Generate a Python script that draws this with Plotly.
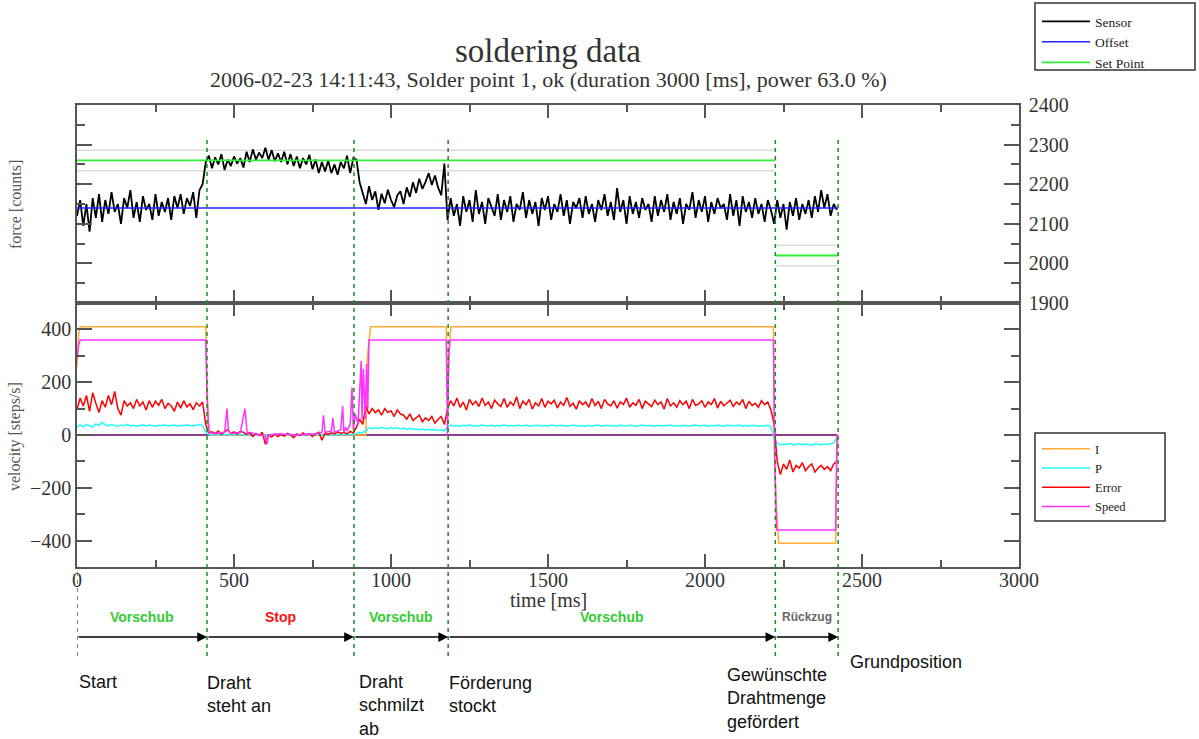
import plotly.graph_objects as go

# ---------------- data ----------------
time_ms = list(range(0, 2430, 10))  # sampling grid, 10 ms

sensor_counts = [
    # Vorschub 0-400
    2120, 2160, 2095, 2150, 2080, 2165, 2115, 2175, 2105, 2160,
    2125, 2180, 2130, 2150, 2100, 2165, 2140, 2185, 2115, 2155,
    2105, 2170, 2135, 2150, 2110, 2175, 2120, 2155, 2130, 2165,
    2110, 2170, 2140, 2175, 2125, 2165, 2145, 2180, 2115, 2185,
    2200,
    # Stop 410-880
    2255, 2272, 2240, 2268, 2250, 2276, 2236, 2262, 2246, 2270,
    2252, 2266, 2242, 2282, 2256, 2288, 2262, 2280, 2266, 2292,
    2262, 2286, 2258, 2278, 2256, 2282, 2250, 2276, 2246, 2270,
    2240, 2266, 2250, 2274, 2238, 2262, 2228, 2256, 2232, 2260,
    2228, 2250, 2224, 2256, 2240, 2272, 2228, 2266,
    # Vorschub 890-1170
    2262, 2205, 2180, 2150, 2195, 2160, 2182, 2135, 2176, 2152,
    2186, 2160, 2142, 2172, 2182, 2150, 2192, 2168, 2205, 2178,
    2214, 2188, 2206, 2228, 2198, 2222, 2192, 2172, 2252,
    # Vorschub 1180-2210
    2110, 2165, 2120, 2150, 2095, 2170, 2130, 2160, 2105, 2185,
    2125, 2155, 2100, 2165, 2140, 2120, 2175, 2110, 2160, 2130,
    2170, 2105, 2150, 2135, 2180, 2115, 2160, 2125, 2155, 2095,
    2165, 2135, 2170, 2110, 2150, 2130, 2175, 2120, 2160, 2100,
    2155, 2140, 2165, 2115, 2170, 2125, 2150, 2105, 2160, 2135,
    2175, 2120, 2155, 2110, 2190, 2130, 2160, 2100, 2170, 2125,
    2155, 2115, 2165, 2135, 2150, 2105, 2170, 2120, 2160, 2130,
    2175, 2110, 2155, 2125, 2165, 2100, 2150, 2135, 2180, 2115,
    2160, 2130, 2170, 2105, 2155, 2125, 2165, 2140, 2150, 2110,
    2175, 2120, 2160, 2095, 2170, 2130, 2155, 2115, 2165, 2125,
    2150, 2105, 2160, 2135,
    # Rueckzug 2220-2420
    2100, 2160, 2115, 2150, 2085, 2155, 2120, 2165, 2110, 2150,
    2125, 2160, 2115, 2170, 2130, 2185, 2140, 2175, 2120, 2150, 2135,
]

error_vel = [
    95, 140, 110, 150, 90, 160, 120, 85, 130, 105,
    150, 115, 165, 100, 75, 130, 110, 122, 100, 135,
    110, 125, 95, 130, 105, 128, 112, 135, 100, 120,
    110, 90, 125, 102, 130, 106, 118, 96, 122, 110, 125,
    40, 8, 12, 5, 15, 3, 10, 20, 6, 12,
    4, 14, 10, 2, 8, -5, 6, -2, 10, -35,
    0, -8, 4, -6, 2, -4, 6, 0, -10, 4,
    -2, 8, 0, 5, -6, 4, 10, -20, 6, 2,
    8, 4, 12, 6, 10, 4, 14, 8,
    30, 60, 40, 110, 80, 100, 85, 95, 75, 100,
    85, 92, 70, 95, 80, 75, 60, 80, 55, 65,
    75, 50, 65, 55, 70, 45, 60, 70, 40,
    100, 130, 110, 140, 105, 125, 95, 135, 115, 128,
    108, 140, 112, 125, 100, 132, 118, 108, 138, 105,
    125, 112, 145, 100, 128, 115, 135, 98, 122, 110,
    138, 105, 128, 118, 132, 102, 125, 112, 142, 108,
    120, 98, 130, 115, 125, 105, 138, 112, 128, 100,
    135, 118, 110, 130, 102, 125, 115, 140, 105, 122,
    112, 135, 100, 128, 118, 108, 132, 115, 125, 98,
    138, 110, 122, 105, 130, 115, 128, 100, 135, 112,
    118, 130, 105, 125, 115, 138, 102, 128, 110, 122,
    132, 108, 125, 115, 135, 100, 128, 112, 120, 105,
    130, 115, 125, 95,
    40, -100, -150, -110, -130, -95, -140, -115, -125, -105,
    -135, -120, -110, -140, -125, -115, -130, -120, -135, -110, -100,
]

p_vel = [
    30, 38, 32, 40, 35, 30, 42, 36, 48, 38,
    34, 40, 36, 32, 38, 35, 40, 34, 37, 33,
    36, 39, 34, 38, 35, 33, 37, 35, 39, 34,
    36, 38, 33, 37, 35, 39, 36, 34, 38, 40, 36,
    10, 2, 1, 3, 0, 2, 1, 4, 0, 2,
    1, 3, 1, 0, 2, 0, 1, 0, 2, -3,
    0, -1, 1, -1, 0, -1, 1, 0, -2, 1,
    0, 2, 0, 1, -1, 1, 2, -2, 1, 0,
    2, 1, 3, 1, 2, 1, 3, 2,
    5, 10, 8, 20, 28, 24, 27, 25, 29, 26,
    24, 28, 25, 27, 23, 26, 22, 25, 21, 24,
    20, 23, 19, 22, 18, 21, 17, 20, 15,
    32, 38, 34, 36, 33, 37, 35, 39, 34, 36,
    33, 38, 35, 34, 37, 33, 36, 35, 38, 34,
    36, 33, 37, 35, 34, 38, 33, 36, 35, 37,
    34, 36, 33, 38, 35, 34, 37, 36, 33, 35,
    38, 34, 36, 35, 33, 37, 34, 36, 38, 33,
    35, 37, 34, 36, 33, 38, 35, 34, 37, 36,
    33, 35, 38, 34, 36, 35, 33, 37, 34, 36,
    35, 38, 33, 36, 34, 37, 35, 33, 36, 38,
    34, 35, 37, 33, 36, 34, 38, 35, 33, 37,
    36, 34, 35, 38, 33, 36, 34, 37, 35, 33,
    36, 34, 37, 30,
    -10, -30, -38, -34, -36, -32, -38, -35, -33, -37,
    -34, -36, -38, -33, -35, -37, -34, -36, -33, -30, -10,
]

i_t = [0, 5, 10, 410, 414, 418, 425, 920, 925, 935, 1176, 1180, 1185, 1190,
       2218, 2222, 2226, 2235, 2416, 2420, 2424]
i_vel = [260, 380, 410, 410, 200, 50, 0, 0, 300, 410, 410, 150, 300, 410,
         410, -100, -250, -410, -410, -100, 0]

speed_t = [0, 5, 10, 410, 414, 420, 440, 470, 478, 482, 490, 520, 535, 538, 542,
           550, 580, 600, 605, 610, 640, 700, 760, 780, 785, 790, 810, 815, 820,
           840, 846, 850, 856, 860, 870, 876, 880, 886, 895, 905, 908, 912, 918,
           922, 926, 930, 1176, 1180, 1184, 1188, 2218, 2222, 2228, 2416, 2420, 2424]
speed_vel = [290, 340, 360, 360, 150, 10, 5, 10, 100, 15, 5, 10, 100, 60, 5,
             10, 0, -5, -35, 0, 5, 0, 5, 10, 75, 10, 15, 65, 10,
             20, 110, 10, 30, 15, 40, 180, 20, 80, 40, 280, 60, 250, 60,
             270, 100, 360, 360, 0, 300, 360, 360, -100, -360, -360, 0, 0]

offset_counts = 2140
setpoint_t = [0, 2224, None, 2224, 2424]
setpoint_counts = [2260, 2260, None, 2020, 2020]
setpoint_tolerance = 26

phase_bounds = [0, 414, 882, 1182, 2224, 2424]
phase_names = ["Vorschub", "Stop", "Vorschub", "Vorschub", "Rückzug"]
phase_colors = ["#33cc33", "#ff1111", "#33cc33", "#33cc33", "#666666"]
event_texts = ["Start", "Draht<br>steht an", "Draht<br>schmilzt<br>ab",
               "Förderung<br>stockt", "Gewünschte<br>Drahtmenge<br>gefördert",
               "Grundposition"]

# ---------------- figure ----------------
SERIF = "Liberation Serif"
SANS = "Liberation Sans"
fig = go.Figure()

# top panel (force)
tol_hi = [None if v is None else v + setpoint_tolerance for v in setpoint_counts]
tol_lo = [None if v is None else v - setpoint_tolerance for v in setpoint_counts]
for tol in (tol_hi, tol_lo):
    fig.add_trace(go.Scatter(x=setpoint_t, y=tol, mode="lines", xaxis="x2", yaxis="y2",
                             line=dict(color="#dcdcdc", width=1.5), showlegend=False,
                             hoverinfo="skip"))
fig.add_trace(go.Scatter(x=time_ms, y=sensor_counts, mode="lines", name="Sensor",
                         xaxis="x2", yaxis="y2", line=dict(color="black", width=1.8),
                         legend="legend"))
fig.add_trace(go.Scatter(x=[phase_bounds[0], phase_bounds[-1]], y=[offset_counts] * 2,
                         mode="lines", name="Offset", xaxis="x2", yaxis="y2",
                         line=dict(color="#2222ff", width=1.5), legend="legend"))
fig.add_trace(go.Scatter(x=setpoint_t, y=setpoint_counts, mode="lines", name="Set Point",
                         xaxis="x2", yaxis="y2", line=dict(color="#33ee33", width=1.8),
                         legend="legend"))

# bottom panel (velocity)
fig.add_trace(go.Scatter(x=[time_ms[0], time_ms[-1]], y=[0, 0], mode="lines",
                         line=dict(color="#660066", width=1.5), showlegend=False,
                         hoverinfo="skip"))
fig.add_trace(go.Scatter(x=i_t, y=i_vel, mode="lines", name="I",
                         line=dict(color="#ffaa33", width=1.5), legend="legend2"))
fig.add_trace(go.Scatter(x=time_ms, y=p_vel, mode="lines", name="P",
                         line=dict(color="#22ffff", width=1.5), legend="legend2"))
fig.add_trace(go.Scatter(x=time_ms, y=error_vel, mode="lines", name="Error",
                         line=dict(color="#ff0000", width=1.5), legend="legend2"))
fig.add_trace(go.Scatter(x=speed_t, y=speed_vel, mode="lines", name="Speed",
                         line=dict(color="#ff33ff", width=1.5), legend="legend2"))

AX_COL = "#555555"
tickfont = dict(family=SERIF, size=20, color="#333333")
xcommon = dict(range=[0, 3000], tickvals=[0, 500, 1000, 1500, 2000, 2500, 3000],
               ticks="inside", ticklen=13, tickwidth=1.5, tickcolor=AX_COL,
               minor=dict(dtick=250, ticks="inside", ticklen=7, tickcolor=AX_COL, tickwidth=1.5),
               showline=True, linecolor=AX_COL, linewidth=1.5, mirror="ticks",
               showgrid=False, zeroline=False)

split = 0.5714
PX = lambda px: (px - 77) / 942          # pixel column -> paper x
PY = lambda py: (567 - py) / 462         # pixel row -> paper y
fig.update_layout(
    width=1199, height=739,
    margin=dict(l=77, r=180, t=105, b=172, autoexpand=False),
    paper_bgcolor="white", plot_bgcolor="white",
    showlegend=True,
    title=dict(text="soldering data", x=0.5, xref="paper", xanchor="center",
               y=1 - 50 / 739, yanchor="middle",
               font=dict(family=SERIF, size=33, color="#333333")),
    xaxis=dict(**xcommon, anchor="y", domain=[0, 1], tickfont=tickfont,
               ticklabelstandoff=-6),
    xaxis2=dict(**xcommon, anchor="y2", domain=[0, 1], matches="x", showticklabels=False),
    yaxis=dict(domain=[0, split], range=[-500, 500], tickvals=[-400, -200, 0, 200, 400],
               ticks="inside", ticklen=15, tickwidth=1.5, tickcolor=AX_COL,
               minor=dict(dtick=100, ticks="inside", ticklen=8, tickcolor=AX_COL, tickwidth=1.5),
               showline=True, linecolor=AX_COL, linewidth=1.5, mirror="ticks",
               showgrid=False, zeroline=False, tickfont=tickfont, anchor="x"),
    yaxis2=dict(domain=[split, 1], range=[1900, 2400], dtick=100, side="right",
                ticks="inside", ticklen=15, tickwidth=1.5, tickcolor=AX_COL,
                minor=dict(dtick=50, ticks="inside", ticklen=8, tickcolor=AX_COL, tickwidth=1.5),
                showline=True, linecolor=AX_COL, linewidth=1.5, mirror="ticks",
                showgrid=False, zeroline=False, tickfont=tickfont, anchor="x2",
                ticklabelstandoff=4),
    legend=dict(x=PX(1037), xanchor="left", y=PY(6), yanchor="top",
                borderwidth=0, bgcolor="rgba(0,0,0,0)", itemwidth=48,
                font=dict(family=SERIF, size=13.5, color="#222222"), tracegroupgap=0),
    legend2=dict(x=PX(1037), xanchor="left", y=PY(434), yanchor="top",
                 borderwidth=0, bgcolor="rgba(0,0,0,0)", itemwidth=48,
                 font=dict(family=SERIF, size=12.5, color="#222222"), tracegroupgap=0),
)

ann = []
ann.append(dict(text="2006-02-23 14:11:43, Solder point 1, ok (duration 3000 [ms], power 63.0 %)",
                xref="paper", yref="paper", x=0.5, y=PY(80), xanchor="center",
                yanchor="middle", showarrow=False,
                font=dict(family=SERIF, size=22, color="#333333")))
ann.append(dict(text="time [ms]", xref="paper", yref="paper", x=0.5, y=PY(600),
                xanchor="center", yanchor="middle", showarrow=False,
                font=dict(family=SERIF, size=20, color="#333333")))
ann.append(dict(text="force [counts]", xref="paper", yref="paper", x=PX(15),
                y=PY(205), textangle=-90, xanchor="center", yanchor="middle",
                showarrow=False, font=dict(family=SERIF, size=16, color="#555555")))
ann.append(dict(text="velocity [steps/s]", xref="paper", yref="paper", x=PX(15),
                y=PY(437), textangle=-90, xanchor="center", yanchor="middle",
                showarrow=False, font=dict(family=SERIF, size=16, color="#555555")))

# phase labels and arrows
for k, name in enumerate(phase_names):
    a, b = phase_bounds[k], phase_bounds[k + 1]
    ann.append(dict(text=f"<b>{name}</b>", xref="x", yref="paper", x=(a + b) / 2,
                    y=PY(617), xanchor="center", yanchor="middle", showarrow=False,
                    font=dict(family=SANS, size=14 if k < 4 else 12, color=phase_colors[k])))
    ann.append(dict(text="", xref="x", yref="paper", x=b, y=PY(637),
                    axref="x", ax=a, ayref="pixel", ay=0, showarrow=True,
                    arrowhead=2, arrowsize=1.3, arrowwidth=1.5, arrowcolor="black",
                    standoff=0, startstandoff=0))

# event texts
event_pos = [(0, 0, 670), (1, -2, 671), (2, 3, 670), (3, -1, 671), (4, -50, 663), (5, 10, 650)]
for (k, shift, py) in event_pos:
    ann.append(dict(text=event_texts[k], xref="x", yref="paper", x=phase_bounds[k],
                    xshift=shift, y=PY(py), xanchor="left", yanchor="top",
                    align="left", showarrow=False,
                    font=dict(family=SANS, size=18, color="#111111")))
fig.update_layout(annotations=ann)

# dashed boundary lines + legend frames
shapes = []
for k, xb in enumerate(phase_bounds):
    y_top = PY(569) if k == 0 else PY(138)
    shapes.append(dict(type="line", xref="x", yref="paper", x0=xb, x1=xb,
                       y0=PY(656), y1=y_top,
                       line=dict(color="#228822", width=1.5, dash="4px,4px")))
for (x0, y0, x1, y1) in [(1035, 3, 1195, 70), (1035, 433, 1165, 521)]:
    shapes.append(dict(type="rect", xref="paper", yref="paper", x0=PX(x0), x1=PX(x1),
                       y0=PY(y1), y1=PY(y0), line=dict(color="#333333", width=1.5),
                       layer="above"))
fig.update_layout(shapes=shapes)

fig.write_html("out.html", config={"displayModeBar": False},
               post_script="document.body.style.margin='0px';")
